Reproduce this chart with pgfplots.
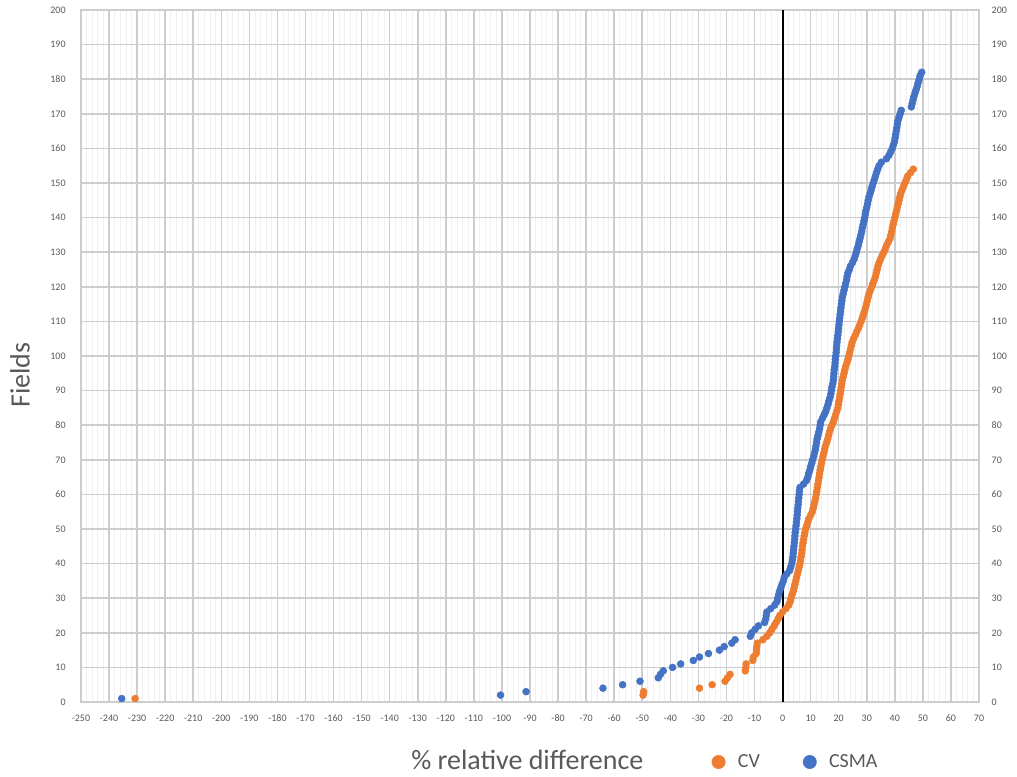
\documentclass[border=0pt]{standalone}
\usepackage{pgfplots}
\pgfplotsset{compat=1.18}
\usepackage{fontspec}
\setmainfont{Carlito}
\definecolor{cvor}{HTML}{ED7D31}
\definecolor{csbl}{HTML}{4472C4}
\definecolor{txt}{HTML}{595959}
\definecolor{gmaj}{HTML}{CDCDCD}
\definecolor{gmin}{HTML}{F0F0F0}
\pgfplotsset{
 base/.style={
  at={(60.75pt,55.5pt)}, anchor=south west,
  scale only axis, width=673.5pt, height=519pt,
  xmin=-250, xmax=70, ymin=0, ymax=200,
  ytick={0,10,...,200},
  major tick length=0pt, minor tick length=0pt,
  /pgf/number format/assume math mode=true,
  /pgf/number format/1000 sep={},
  ticklabel style={font=\fontsize{7.5pt}{9pt}\selectfont, text=txt},
 }
}
\begin{document}
\begin{tikzpicture}
\path[use as bounding box] (0,0) rectangle (762.75pt,582pt);
\begin{axis}[base,
  xtick={-250,-240,...,70},
  minor x tick num=4,
  xmajorgrids, ymajorgrids, xminorgrids,
  minor grid style={gmin, line width=0.6pt},
  major grid style={gmaj, line width=1.2pt},
  axis line style={gmaj, line width=1.2pt},
  xticklabel style={anchor=center, yshift=-12pt},
  yticklabel style={anchor=east, xshift=-8pt},
  xlabel={\% relative difference},
  ylabel={Fields},
  label style={font=\fontsize{21pt}{25pt}\selectfont, text=txt},
  xlabel style={at={(axis description cs:0.497,-0.084)}, anchor=center},
  ylabel style={at={(axis description cs:-0.068,0.4725)}, anchor=center, rotate=0},
  legend columns=2,
  legend style={at={(axis description cs:0.7016,-0.0867)}, anchor=west, draw=none, fill=none,
    inner sep=0pt, nodes={inner sep=0pt, anchor=west}, font=\fontsize{15pt}{18pt}\selectfont, text=txt,
    /tikz/every odd column/.append style={column sep=9pt},
    /tikz/every even column/.append style={column sep=32pt}},
  legend image code/.code={\draw[#1,mark size=5pt] plot coordinates {(5.25pt,0pt)}; \path (0pt,0pt) (10.5pt,0pt);},
]
\addplot[black, line width=1.5pt, forget plot] coordinates {(0,0) (0,200)};
\addplot[only marks, mark=*, mark size=2.6pt, mark options={draw=cvor, fill=cvor}, color=cvor] coordinates {
(-230.7,1) (-49.7,2) (-49.5,3) (-29.6,4) (-25.1,5) (-20.5,6) (-19.6,7) (-18.7,8) (-13.3,9) (-13.1,10)
(-13.0,11) (-10.6,12) (-10.4,13) (-9.4,14) (-9.3,15) (-9.2,16) (-9.0,17) (-7.0,18) (-5.6,19) (-4.6,20)
(-3.8,21) (-3.0,22) (-2.3,23) (-1.6,24) (-1.0,25) (0.0,26) (1.2,27) (2.2,28) (2.7,29) (3.0,30)
(3.4,31) (3.8,32) (4.1,33) (4.4,34) (4.7,35) (5.0,36) (5.3,37) (5.6,38) (5.9,39) (6.2,40)
(6.4,41) (6.6,42) (6.8,43) (6.95,44) (7.1,45) (7.3,46) (7.5,47) (7.7,48) (7.95,49) (8.2,50)
(8.6,51) (9.0,52) (9.4,53) (10.0,54) (10.6,55) (10.9,56) (11.2,57) (11.5,58) (11.8,59) (12.0,60)
(12.2,61) (12.4,62) (12.6,63) (12.8,64) (13.0,65) (13.2,66) (13.4,67) (13.6,68) (13.9,69) (14.1,70)
(14.4,71) (14.7,72) (15.0,73) (15.3,74) (15.7,75) (16.1,76) (16.4,77) (16.7,78) (17.1,79) (17.6,80)
(18.1,81) (18.5,82) (18.9,83) (19.3,84) (19.7,85) (19.9,86) (20.1,87) (20.3,88) (20.5,89) (20.7,90)
(20.9,91) (21.1,92) (21.3,93) (21.6,94) (21.9,95) (22.2,96) (22.5,97) (22.9,98) (23.3,99) (23.6,100)
(23.9,101) (24.2,102) (24.5,103) (24.8,104) (25.3,105) (25.9,106) (26.4,107) (27.0,108) (27.5,109) (28.0,110)
(28.4,111) (28.8,112) (29.2,113) (29.6,114) (29.9,115) (30.2,116) (30.5,117) (30.8,118) (31.3,119) (31.8,120)
(32.2,121) (32.7,122) (33.1,123) (33.4,124) (33.7,125) (34.0,126) (34.4,127) (34.9,128) (35.5,129) (36.1,130)
(36.6,131) (37.1,132) (37.7,133) (38.3,134) (38.6,135) (38.9,136) (39.1,137) (39.4,138) (39.7,139) (40.0,140)
(40.3,141) (40.6,142) (40.9,143) (41.2,144) (41.5,145) (41.8,146) (42.1,147) (42.6,148) (43.1,149) (43.6,150)
(44.1,151) (44.6,152) (45.6,153) (46.6,154)
};
\addlegendentry{CV}
\addplot[only marks, mark=*, mark size=2.6pt, mark options={draw=csbl, fill=csbl}, color=csbl] coordinates {
(-235.5,1) (-100.5,2) (-91.4,3) (-64.0,4) (-57.0,5) (-50.8,6) (-44.3,7) (-43.5,8) (-42.5,9) (-39.2,10)
(-36.3,11) (-31.8,12) (-29.6,13) (-26.4,14) (-22.5,15) (-20.8,16) (-18.1,17) (-16.9,18) (-11.5,19) (-11.0,20)
(-9.8,21) (-8.6,22) (-6.4,23) (-6.0,24) (-5.8,25) (-5.6,26) (-4.2,27) (-2.8,28) (-2.0,29) (-1.7,30)
(-1.4,31) (-1.1,32) (-0.6,33) (-0.2,34) (0.3,35) (0.6,36) (1.5,37) (2.5,38) (2.9,39) (3.3,40)
(3.5,41) (3.7,42) (3.8,43) (3.9,44) (4.05,45) (4.2,46) (4.3,47) (4.4,48) (4.5,49) (4.65,50)
(4.8,51) (4.95,52) (5.1,53) (5.2,54) (5.3,55) (5.4,56) (5.55,57) (5.65,58) (5.8,59) (5.9,60)
(6.0,61) (6.2,62) (7.5,63) (8.5,64) (9.0,65) (9.3,66) (9.7,67) (10.0,68) (10.4,69) (10.7,70)
(11.1,71) (11.4,72) (11.7,73) (11.9,74) (12.1,75) (12.3,76) (12.6,77) (12.9,78) (13.2,79) (13.4,80)
(13.6,81) (14.2,82) (14.8,83) (15.4,84) (15.8,85) (16.2,86) (16.5,87) (16.9,88) (17.2,89) (17.4,90)
(17.6,91) (17.9,92) (18.1,93) (18.2,94) (18.3,95) (18.4,96) (18.6,97) (18.7,98) (18.8,99) (18.95,100)
(19.1,101) (19.2,102) (19.3,103) (19.4,104) (19.55,105) (19.7,106) (19.85,107) (19.95,108) (20.1,109) (20.2,110)
(20.35,111) (20.5,112) (20.65,113) (20.8,114) (20.95,115) (21.15,116) (21.3,117) (21.6,118) (21.9,119) (22.2,120)
(22.5,121) (22.8,122) (23.0,123) (23.3,124) (23.8,125) (24.2,126) (24.9,127) (25.5,128) (25.9,129) (26.3,130)
(26.6,131) (27.0,132) (27.3,133) (27.6,134) (27.9,135) (28.2,136) (28.4,137) (28.7,138) (29.0,139) (29.3,140)
(29.5,141) (29.7,142) (30.0,143) (30.3,144) (30.5,145) (30.8,146) (31.2,147) (31.6,148) (31.9,149) (32.3,150)
(32.7,151) (33.1,152) (33.5,153) (33.9,154) (34.4,155) (35.2,156) (37.0,157) (37.9,158) (38.5,159) (39.1,160)
(39.5,161) (39.9,162) (40.1,163) (40.3,164) (40.5,165) (40.7,166) (40.9,167) (41.1,168) (41.5,169) (41.9,170)
(42.3,171) (45.9,172) (46.2,173) (46.5,174) (46.8,175) (47.2,176) (47.6,177) (48.0,178) (48.3,179) (48.7,180)
(49.0,181) (49.6,182)
};
\addlegendentry{CSMA}
\end{axis}
\begin{axis}[base,
  axis line style={draw=none},
  xtick=\empty,
  yticklabel pos=right,
  yticklabel style={anchor=west, xshift=6pt},
]
\end{axis}
\end{tikzpicture}
\end{document}
